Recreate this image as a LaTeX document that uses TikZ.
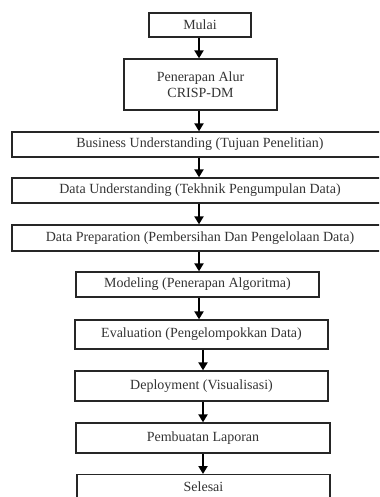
\documentclass[tikz,border=0pt]{standalone}
\usepackage{fontspec}
\setmainfont{Liberation Serif}
\usetikzlibrary{arrows.meta}
\begin{document}
\begin{tikzpicture}[x=1bp,y=-1bp,
  box/.style={draw=black!85, line width=1.3bp, inner sep=0pt, font=\fontsize{14bp}{16bp}\selectfont, text=black!80, align=center},
  arr/.style={line width=2.6bp, -{Triangle[length=8bp,width=9bp]}}]
\useasboundingbox (0,0) rectangle (379,497);
\clip (0,0) rectangle (379,497);
\node[box, minimum width=102bp, minimum height=24bp] (mulai) at (200,25) {Mulai};
\node[box, minimum width=153bp, minimum height=51bp] (crisp) at (200.5,84.5) {Penerapan Alur\\CRISP-DM};
\node[box, minimum width=376bp, minimum height=25bp] (bu) at (200,144.5) {Business Understanding (Tujuan Penelitian)};
\node[box, minimum width=376bp, minimum height=25bp] (du) at (200,190.5) {Data Understanding (Tekhnik Pengumpulan Data)};
\node[box, minimum width=376bp, minimum height=26bp] (dp) at (200,238) {Data Preparation (Pembersihan Dan Pengelolaan Data)};
\node[box, minimum width=243bp, minimum height=25bp] (mod) at (197.5,284.5) {Modeling (Penerapan Algoritma)};
\node[box, minimum width=253bp, minimum height=29bp] (eval) at (201.5,334.5) {Evaluation (Pengelompokkan Data)};
\node[box, minimum width=253bp, minimum height=30bp] (dep) at (201.5,386) {Deployment (Visualisasi)};
\node[box, minimum width=254bp, minimum height=30bp] (lap) at (203,438) {Pembuatan Laporan};
\node[box, minimum width=253bp, minimum height=30bp, anchor=north] (sel) at (203.5,474) {\raisebox{6bp}{Selesai}};
\coordinate (xa) at (199,0);
\coordinate (xb) at (203,0);
\draw[arr] (mulai.south -| xa) -- (crisp.north -| xa);
\draw[arr] (crisp.south -| xa) -- (bu.north -| xa);
\draw[arr] (bu.south -| xa) -- (du.north -| xa);
\draw[arr] (du.south -| xa) -- (dp.north -| xa);
\draw[arr] (dp.south -| xa) -- (mod.north -| xa);
\draw[arr] (mod.south -| xa) -- (eval.north -| xa);
\draw[arr] (eval.south -| xb) -- (dep.north -| xb);
\draw[arr] (dep.south -| xb) -- (lap.north -| xb);
\draw[arr] (lap.south -| xb) -- (sel.north -| xb);
\end{tikzpicture}
\end{document}
